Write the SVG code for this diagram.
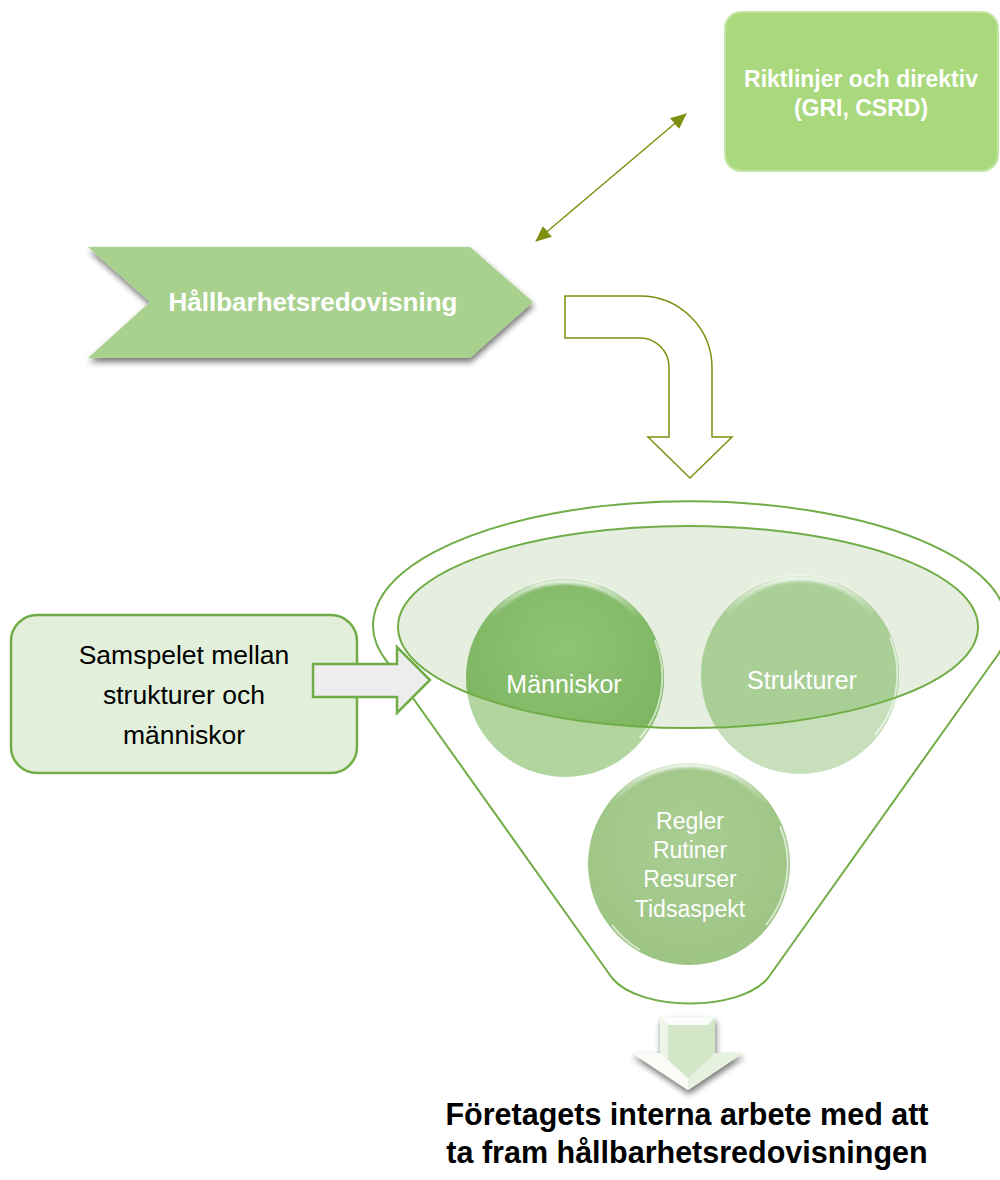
<svg xmlns="http://www.w3.org/2000/svg" width="1000" height="1180" viewBox="0 0 1000 1180">
<defs>
<style>
.wt{fill:#ffffff;font-family:"Liberation Sans",Arial,sans-serif;font-weight:bold;text-anchor:middle}
.ct{fill:#ffffff;font-family:"Liberation Sans",Arial,sans-serif;text-anchor:middle}
.bt{fill:#000000;font-family:"Liberation Sans",Arial,sans-serif;text-anchor:middle}
.olive{stroke:#7f8f0f;fill:none}
.fun{stroke:#70ad47;stroke-width:2;fill:none}
</style>
<filter id="sh" x="-10%" y="-10%" width="130%" height="140%">
<feGaussianBlur in="SourceAlpha" stdDeviation="3"/>
<feOffset dx="1" dy="4" result="b"/>
<feComponentTransfer><feFuncA type="linear" slope="0.55"/></feComponentTransfer>
<feMerge><feMergeNode/><feMergeNode in="SourceGraphic"/></feMerge>
</filter>
<filter id="glow" x="-10%" y="-10%" width="120%" height="120%">
<feGaussianBlur stdDeviation="1.5"/>
</filter>
<marker id="ah2" viewBox="0 0 16 14" refX="15" refY="7" markerWidth="16" markerHeight="14" markerUnits="userSpaceOnUse" orient="auto-start-reverse">
<path d="M0,0 L16,7 L0,14 Z" fill="#7f8f0f"/>
</marker>
<radialGradient id="gM" cx="50%" cy="35%" r="65%">
<stop offset="0" stop-color="#8fc375"/>
<stop offset="1" stop-color="#7bb45f"/>
</radialGradient>
<radialGradient id="gR" cx="50%" cy="40%" r="65%">
<stop offset="0" stop-color="#a9cd93"/>
<stop offset="1" stop-color="#9cc483"/>
</radialGradient>
<linearGradient id="hl" x1="0" y1="0" x2="0" y2="1">
<stop offset="0" stop-color="#ffffff" stop-opacity="0.85"/>
<stop offset="1" stop-color="#ffffff" stop-opacity="0"/>
</linearGradient>
<clipPath id="inEl"><ellipse cx="688" cy="627" rx="290" ry="101"/></clipPath>
</defs>

<g id="riktlinjer">
<rect x="725" y="12" width="273" height="159" rx="16" fill="#aad87d" stroke="#c6e6a6" stroke-width="2"/>
<text class="wt" font-size="23" x="861" y="87">Riktlinjer och direktiv</text>
<text class="wt" font-size="23" x="861" y="116">(GRI, CSRD)</text>
</g>

<g id="hallbarhet">
<polygon points="88,247 470,247 533,302 470,358 88,358 150,302" fill="#a9d18e" filter="url(#sh)"/>
<text class="wt" font-size="26" x="313" y="311">Hållbarhetsredovisning</text>
</g>

<g id="funnel">
<path class="fun" d="M388,663 A317,124 0 1 1 992,663 L768,978 C740,1012 640,1012 612,978 Z" stroke="#74b552"/>
<ellipse cx="688" cy="627" rx="290" ry="101" fill="#e6eee0"/>
</g>

<g id="manniskor">
<circle cx="565" cy="678" r="99" fill="#b2d5a0"/>
<circle cx="565" cy="678" r="99" fill="url(#gM)" clip-path="url(#inEl)"/>
<path d="M490,618 A95,95 0 0 1 640,618" stroke="url(#hl)" stroke-width="5" fill="none" filter="url(#glow)"/>
<path d="M655,640 A95,95 0 0 1 640,738" stroke="#ffffff" stroke-opacity="0.6" stroke-width="2" fill="none"/>
<text class="ct" font-size="25" x="564" y="693">Människor</text>
</g>

<g id="strukturer">
<circle cx="800" cy="675" r="99" fill="#c7e0bb"/>
<circle cx="800" cy="675" r="99" fill="#a9cf97" clip-path="url(#inEl)"/>
<path d="M725,615 A95,95 0 0 1 875,615" stroke="url(#hl)" stroke-width="5" fill="none" filter="url(#glow)"/>
<path d="M890,637 A95,95 0 0 1 875,735" stroke="#ffffff" stroke-opacity="0.6" stroke-width="2" fill="none"/>
<text class="ct" font-size="25" x="802" y="689">Strukturer</text>
</g>

<g id="regler">
<circle cx="689" cy="864" r="101" fill="url(#gR)"/>
<path d="M612,803 A97,97 0 0 1 766,803" stroke="url(#hl)" stroke-width="5" fill="none" filter="url(#glow)"/>
<path d="M780,826 A97,97 0 0 1 766,925" stroke="#ffffff" stroke-opacity="0.6" stroke-width="2" fill="none"/>
<path d="M612,925 A97,97 0 0 0 640,950" stroke="#ffffff" stroke-opacity="0.6" stroke-width="2" fill="none"/>
<text class="ct" font-size="23" x="690" y="829">Regler</text>
<text class="ct" font-size="23" x="690" y="858">Rutiner</text>
<text class="ct" font-size="23" x="690" y="887">Resurser</text>
<text class="ct" font-size="23" x="690" y="917">Tidsaspekt</text>
</g>

<g id="funnel-rim">
<ellipse cx="688" cy="627" rx="290" ry="101" fill="none" stroke="#70ad47" stroke-width="2"/>
</g>

<g id="samspelet">
<rect x="11" y="615" width="346" height="158" rx="26" fill="#e2efda" stroke="#70ad47" stroke-width="2.5"/>
<text class="bt" font-size="26.5" x="184" y="664">Samspelet mellan</text>
<text class="bt" font-size="26.5" x="184" y="704">strukturer och</text>
<text class="bt" font-size="26.5" x="184" y="744">människor</text>
</g>

<g id="connectors">
<line x1="536" y1="241" x2="686" y2="114" stroke="#7f8f0f" stroke-width="1.5" marker-start="url(#ah2)" marker-end="url(#ah2)"/>
<path class="olive" stroke-width="1.5" d="M565,296 L640,296 A72,72 0 0 1 712,368 L712,437 L732,437 L690,478 L648,437 L669,437 L669,367 A29,29 0 0 0 640,338 L565,338 Z"/>
<polygon points="313,664 397,664 397,647 430,680 397,713 397,697 313,697" fill="#ededed" stroke="#70ad47" stroke-width="2.5" stroke-linejoin="miter"/>
<g id="down-arrow" filter="url(#sh)">
<polygon points="660,1017 715,1017 715,1053 743,1053 688,1090 632,1053 660,1053" fill="#d3e7c8"/>
<polygon points="660,1017 715,1017 708,1025 668,1025" fill="#ffffff" opacity="0.9"/>
<polygon points="660,1017 668,1025 668,1060 660,1053" fill="#eef6ea"/>
<polygon points="632,1053 660,1053 668,1060 688,1078 688,1090" fill="#ffffff" opacity="0.85"/>
<polygon points="715,1053 743,1053 688,1090 688,1078 708,1060" fill="#e6f1e0"/>
</g>
</g>

<g id="result">
<text class="bt" font-weight="bold" font-size="30.5" x="687" y="1125">Företagets interna arbete med att</text>
<text class="bt" font-weight="bold" font-size="30.5" x="687" y="1163">ta fram hållbarhetsredovisningen</text>
</g>
</svg>
